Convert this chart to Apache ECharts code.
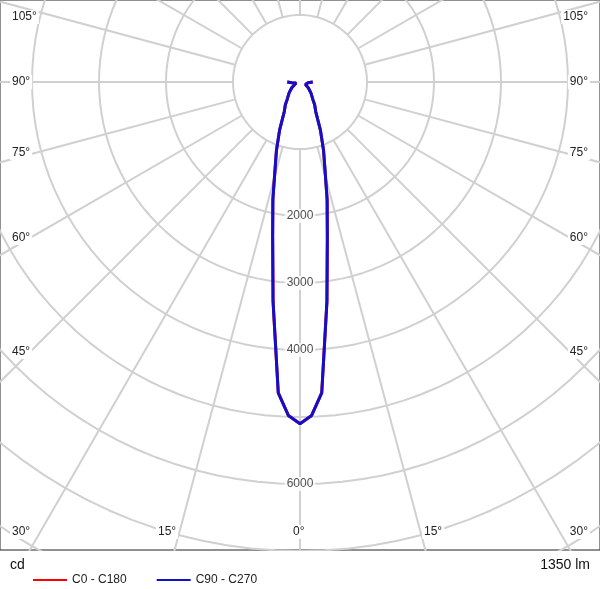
<!DOCTYPE html>
<html><head><meta charset="utf-8">
<script src="https://cdn.jsdelivr.net/npm/echarts@6/dist/echarts.min.js"></script>
<style>body{margin:0;background:#fff}#c{width:600px;height:589px}</style>
</head><body><div id="c"></div>
<script>
// gamma angles (deg) and intensity (cd), symmetric curve
var gammas = [0, 2, 4, 7, 10, 13, 16, 19, 23, 28, 33, 36, 45, 55, 65, 75, 85, 90];
var intensity = [5100, 4980, 4650, 3300, 2350, 1800, 1350, 1080, 780, 500, 400, 330, 230, 150, 90, 60, 120, 190];
var ringValues = [1000, 2000, 3000, 4000, 5000, 6000, 7000, 8000, 9000];
var ringLabels = [2000, 3000, 4000, 6000];

var rad = Math.PI / 180;
function pt(g, r){ return [r * Math.sin(g * rad), -r * Math.cos(g * rad)]; }

var curve = [];
for (var i = gammas.length - 1; i >= 0; i--) curve.push(pt(-gammas[i], intensity[i]));
for (var i = 1; i < gammas.length; i++) curve.push(pt(gammas[i], intensity[i]));

var gridSeries = [];
ringValues.forEach(function(v){
  var d = [];
  for (var a = 0; a <= 360; a += 3) d.push(pt(a, v));
  gridSeries.push({type:'line', data:d, symbol:'none', silent:true, lineStyle:{color:'#d0d0d0', width:2}, z:1});
});
for (var a = 0; a < 360; a += 15) {
  gridSeries.push({type:'line', data:[pt(a, 1000), pt(a, 12000)], symbol:'none', silent:true, lineStyle:{color:'#d0d0d0', width:2}, z:1});
}

var chart = echarts.init(document.getElementById('c'));
function lab(pos, s){
  var o = {type:'text', z:10, style:{text:s, fill:'#222', font:'12px Arial', backgroundColor:'#fff', padding:[1,2]}};
  for (var k in pos) o[k] = pos[k];
  return o;
}
chart.setOption({
  animation:false,
  grid:{left:0, right:0, top:0, height:550, show:true, borderColor:'#222', borderWidth:1},
  xAxis:{type:'value', min:-4478, max:4478, show:false},
  yAxis:{type:'value', min:-6985, max:1224, show:false},
  legend:{
    data:['C0 - C180','C90 - C270'], left:28, bottom:-2, itemWidth:34, itemHeight:2, icon:'rect',
    textStyle:{fontFamily:'Arial', fontSize:12, color:'#222'}, itemGap:30
  },
  graphic:[
    lab({left:10, top:10}, '105°'), lab({left:10, top:75}, '90°'), lab({left:10, top:146}, '75°'),
    lab({left:10, top:231}, '60°'), lab({left:10, top:345}, '45°'),
    lab({right:10, top:10}, '105°'), lab({right:10, top:75}, '90°'), lab({right:10, top:146}, '75°'),
    lab({right:10, top:231}, '60°'), lab({right:10, top:345}, '45°'),
    lab({left:10, top:525}, '30°'), lab({left:156, top:525}, '15°'), lab({left:291, top:525}, '0°'),
    lab({left:422, top:525}, '15°'), lab({right:10, top:525}, '30°'),
    {type:'text', left:10, top:558, style:{text:'cd', fill:'#111', font:'14px Arial'}},
    {type:'text', right:10, top:558, style:{text:'1350 lm', fill:'#111', font:'14px Arial'}}
  ],
  series: gridSeries.concat([
    {type:'scatter', data:ringLabels.map(function(v){return [0, -v];}), symbolSize:0, silent:true, z:3,
     label:{show:true, position:'inside', formatter:function(p){return String(-p.value[1]);},
       color:'#222', fontSize:12, fontFamily:'Arial', backgroundColor:'#fff', padding:[1,2]}},
    {name:'C0 - C180', type:'line', data:curve, symbol:'none', lineStyle:{color:'#ff0000', width:3}, itemStyle:{color:'#ff0000'}, z:4},
    {name:'C90 - C270', type:'line', data:curve, symbol:'none', lineStyle:{color:'#1010cc', width:3}, itemStyle:{color:'#1010cc'}, z:5}
  ])
});
</script></body></html>
